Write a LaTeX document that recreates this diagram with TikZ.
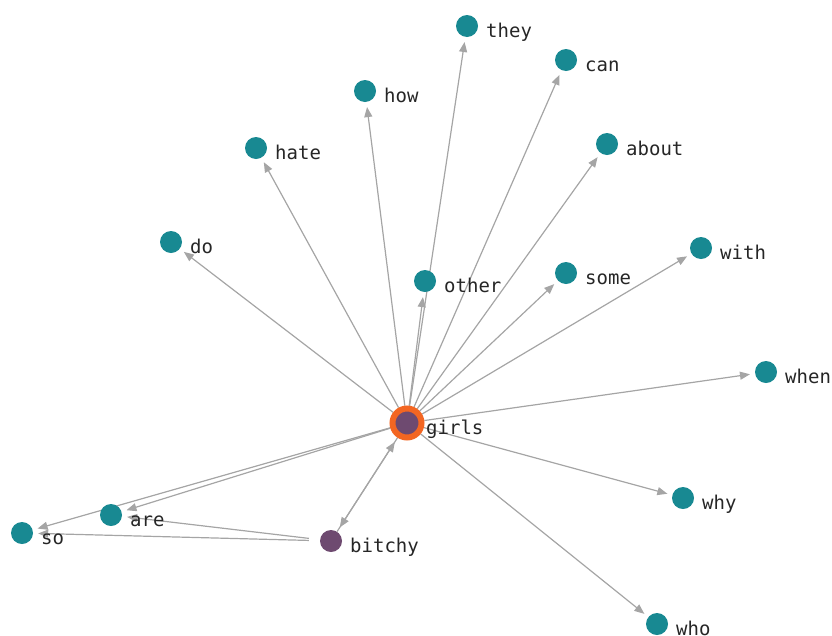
\documentclass[tikz,border=0pt]{standalone}
\usepackage{fontspec}
\newfontfamily\labelfont{DejaVu Sans Mono}
\usetikzlibrary{arrows.meta, backgrounds}
\definecolor{wordteal}{RGB}{24,137,146}
\definecolor{hubpurple}{RGB}{110,74,112}
\definecolor{hubring}{RGB}{243,102,34}
\definecolor{edgegray}{RGB}{165,165,165}
\tikzset{
  word/.style={circle, fill=wordteal, minimum size=22pt, inner sep=0pt},
  adj/.style={circle, fill=hubpurple, minimum size=22pt, inner sep=0pt},
  hub/.style={circle, fill=hubpurple, draw=hubring, line width=6pt,
    minimum size=29pt, inner sep=0pt, outer sep=3pt},
  lbl/.style={anchor=base west, inner sep=0pt, text=black!85,
    font=\labelfont\fontsize{19}{22}\selectfont},
  edge/.style={draw=edgegray, line width=1.2pt,
    -{Triangle[length=10pt, width=8pt]}, shorten >=5pt},
}
% a dot with its word set to the right of it
\newcommand{\wordat}[5]{%
  \node[#1] (#2) at (#3,#4) {};
  \node[lbl] (#2-l) at ([xshift=19pt, yshift=-11.5pt]#2.center) {#5};
}
\begin{document}
\begin{tikzpicture}[x=1pt, y=-1pt]
\useasboundingbox (0,0) rectangle (832,635);

\wordat{hub}{girls}{407}{423}{girls}
\wordat{word}{they}{467}{26}{they}
\wordat{word}{can}{566}{60}{can}
\wordat{word}{how}{365}{91}{how}
\wordat{word}{hate}{256}{148}{hate}
\wordat{word}{about}{607}{144}{about}
\wordat{word}{do}{171}{242}{do}
\wordat{word}{with}{701}{248}{with}
\wordat{word}{other}{425}{281}{other}
\wordat{word}{some}{566}{273}{some}
\wordat{word}{when}{766}{372}{when}
\wordat{word}{why}{683}{498}{why}
\wordat{word}{who}{657}{624}{who}
\wordat{word}{are}{111}{515}{are}
\wordat{word}{so}{22}{533}{so}
\wordat{adj}{bitchy}{331}{541}{bitchy}

% links, kept beneath the dots
\begin{scope}[on background layer]
\foreach \t in {they, can, how, hate, about, do, with, other, some,
  when, why, who, are, so}
  {\path[edge] (girls) -- (\t);}
\path[edge] (girls) -- (bitchy);
\path[edge] (bitchy) -- (girls);
\path[edge, shorten <=11pt] (bitchy) -- (are);
\path[edge, shorten <=11pt] (bitchy) -- (so);
\end{scope}
\end{tikzpicture}
\end{document}
